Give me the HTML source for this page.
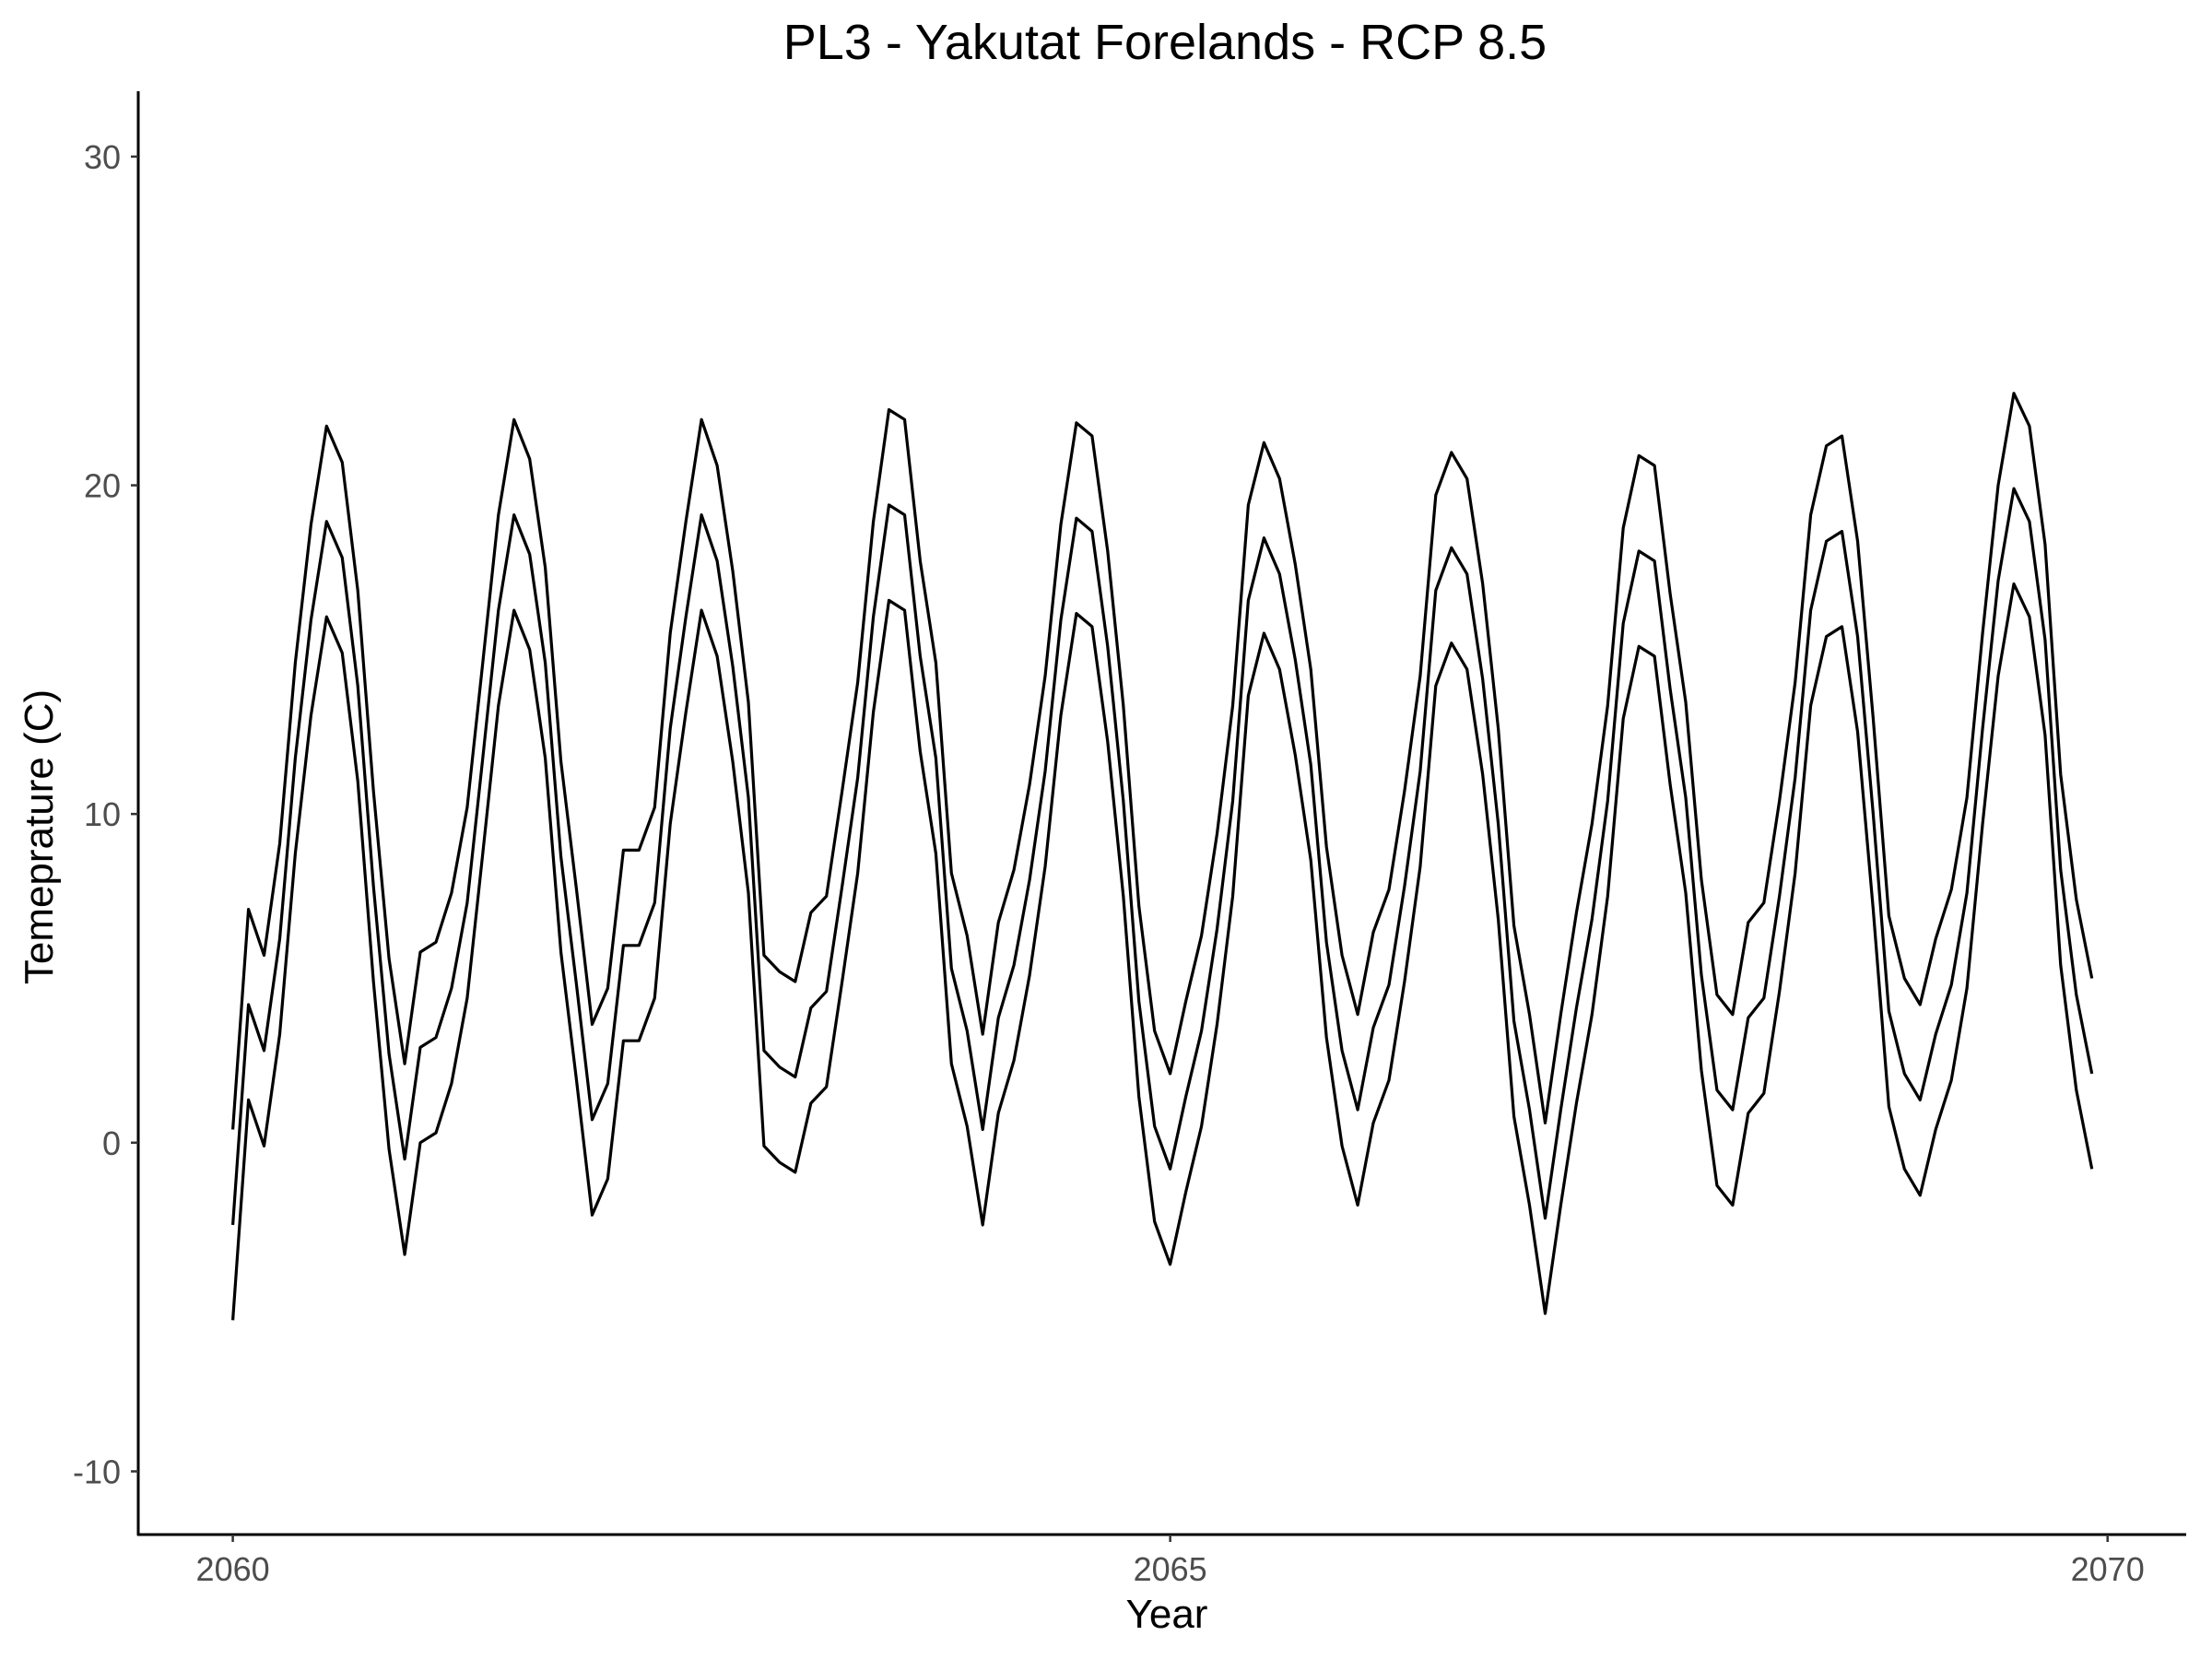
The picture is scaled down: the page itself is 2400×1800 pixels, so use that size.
<!DOCTYPE html>
<html><head><meta charset="utf-8"><style>
body{margin:0;background:#fff;}
svg{display:block;font-family:"Liberation Sans",sans-serif;}
</style></head><body>
<svg id="chart" width="2400" height="1800" viewBox="0 0 2400 1800">
<text x="1264" y="64" text-anchor="middle" font-size="54" fill="#000">PL3 - Yakutat Forelands - RCP 8.5</text>
<g id="axes"></g>
<g id="series"></g>
<text x="1266" y="1766" text-anchor="middle" font-size="44" fill="#000">Year</text>
<text transform="translate(57,908) rotate(-90)" text-anchor="middle" font-size="44" fill="#000">Temeprature (C)</text>
</svg>
<script>
const xTicks = [2060, 2065, 2070];
const yTicks = [-10, 0, 10, 20, 30];
const startYear = 2060;
const upper = [0.4,7.1,5.7,9.1,14.6,18.8,21.8,20.7,16.8,10.7,5.6,2.4,
5.8,6.1,7.6,10.2,14.6,19.1,22.0,20.8,17.5,11.6,7.7,3.6,
4.7,8.9,8.9,10.2,15.5,18.9,22.0,20.6,17.4,13.4,5.7,5.2,
4.9,7.0,7.5,10.7,14.0,18.9,22.3,22.0,17.7,14.6,8.2,6.3,
3.3,6.7,8.3,10.9,14.2,18.8,21.9,21.5,18.0,13.3,7.2,3.4,
2.1,4.3,6.3,9.4,13.3,19.4,21.3,20.2,17.6,14.4,9.0,5.7,
3.9,6.4,7.7,10.7,14.2,19.7,21.0,20.2,17.0,12.6,6.6,3.9,
0.6,3.9,7.0,9.7,13.3,18.7,20.9,20.6,16.7,13.4,8.0,4.5,
3.9,6.7,7.3,10.4,14.0,19.1,21.2,21.5,18.3,12.9,6.9,5.0,
4.2,6.2,7.7,10.5,15.5,20.0,22.8,21.8,18.2,11.2,7.4,5.0];
const middle = [-2.5,4.2,2.8,6.2,11.7,15.9,18.9,17.8,13.9,7.8,2.7,-0.5,
2.9,3.2,4.7,7.3,11.7,16.2,19.1,17.9,14.6,8.7,4.8,0.7,
1.8,6.0,6.0,7.3,12.6,16.0,19.1,17.7,14.5,10.5,2.8,2.3,
2.0,4.1,4.6,7.8,11.1,16.0,19.4,19.1,14.8,11.7,5.3,3.4,
0.4,3.8,5.4,8.0,11.3,15.9,19.0,18.6,15.1,10.4,4.3,0.5,
-0.8,1.4,3.4,6.5,10.4,16.5,18.4,17.3,14.7,11.5,6.1,2.8,
1.0,3.5,4.8,7.8,11.3,16.8,18.1,17.3,14.1,9.7,3.7,1.0,
-2.3,1.0,4.1,6.8,10.4,15.8,18.0,17.7,13.8,10.5,5.1,1.6,
1.0,3.8,4.4,7.5,11.1,16.2,18.3,18.6,15.4,10.0,4.0,2.1,
1.3,3.3,4.8,7.6,12.6,17.1,19.9,18.9,15.3,8.3,4.5,2.1];
const lower = [-5.4,1.3,-0.1,3.3,8.8,13.0,16.0,14.9,11.0,4.9,-0.2,-3.4,
0.0,0.3,1.8,4.4,8.8,13.3,16.2,15.0,11.7,5.8,1.9,-2.2,
-1.1,3.1,3.1,4.4,9.7,13.1,16.2,14.8,11.6,7.6,-0.1,-0.6,
-0.9,1.2,1.7,4.9,8.2,13.1,16.5,16.2,11.9,8.8,2.4,0.5,
-2.5,0.9,2.5,5.1,8.4,13.0,16.1,15.7,12.2,7.5,1.4,-2.4,
-3.7,-1.5,0.5,3.6,7.5,13.6,15.5,14.4,11.8,8.6,3.2,-0.1,
-1.9,0.6,1.9,4.9,8.4,13.9,15.2,14.4,11.2,6.8,0.8,-1.9,
-5.2,-1.9,1.2,3.9,7.5,12.9,15.1,14.8,10.9,7.6,2.2,-1.3,
-1.9,0.9,1.5,4.6,8.2,13.3,15.4,15.7,12.5,7.1,1.1,-0.8,
-1.6,0.4,1.9,4.7,9.7,14.2,17.0,16.0,12.4,5.4,1.6,-0.8];

const NS = "http://www.w3.org/2000/svg";
const xScale = v => 252.6 + (v - 2060) * (2286.7 - 252.6) / 10;
const yScale = v => 1239.8 - v * (1239.8 - 169.9) / 30;
const axes = document.getElementById('axes');
const series = document.getElementById('series');
function mk(tag, attrs, parent){const e=document.createElementNS(NS,tag);for(const k in attrs)e.setAttribute(k,attrs[k]);parent.appendChild(e);return e;}

const yAxis = mk('line',{x1:150,y1:99,x2:150,y2:1666,stroke:'#000','stroke-width':3},axes);


const xAxis = mk('line',{x1:149,y1:1665,x2:2372,y2:1665,stroke:'#000','stroke-width':3},axes);



yTicks.forEach(t=>{
  const y=yScale(t);
  const tk=mk('line',{x1:142,y1:y,x2:150,y2:y,stroke:'#333','stroke-width':2.5},axes);
  
  
  const lb=mk('text',{x:131,y:y+13,'text-anchor':'end','font-size':36,fill:'#4d4d4d'},axes);
  lb.textContent=t;
  
  
});
xTicks.forEach(t=>{
  const x=xScale(t);
  const tk=mk('line',{x1:x,y1:1665,x2:x,y2:1673,stroke:'#333','stroke-width':2.5},axes);
  
  
  const lb=mk('text',{x:x,y:1715,'text-anchor':'middle','font-size':36,fill:'#4d4d4d'},axes);
  lb.textContent=t;
  
  
});

[['upper-series',upper],['middle-series',middle],['lower-series',lower]].forEach(([name,arr])=>{
  const pts=arr.map((v,i)=>xScale(startYear+i/12).toFixed(1)+','+yScale(v).toFixed(1)).join(' ');
  const pl=mk('polyline',{points:pts,fill:'none',stroke:'#000','stroke-width':3.2,'stroke-linejoin':'round'},series);
  
  
});
</script>
</body></html>
